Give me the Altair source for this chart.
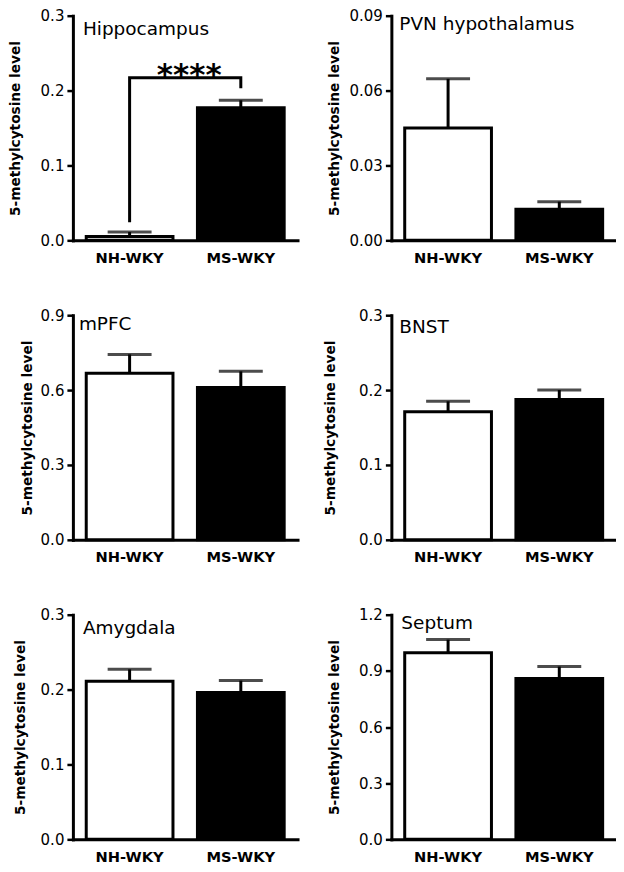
import altair as alt
import pandas as pd

groups = ["NH-WKY", "MS-WKY"]
regions = ["Hippocampus", "PVN hypothalamus", "mPFC", "BNST", "Amygdala", "Septum"]
nh_mean = [0.005, 0.045, 0.667, 0.171, 0.211, 0.997]
nh_sem = [0.006, 0.0197, 0.076, 0.014, 0.016, 0.070]
ms_mean = [0.177, 0.0125, 0.610, 0.1875, 0.196, 0.859]
ms_sem = [0.010, 0.003, 0.065, 0.0125, 0.016, 0.064]
y_max = [0.3, 0.09, 0.9, 0.3, 0.3, 1.2]
y_ticks = [
    [0.0, 0.1, 0.2, 0.3],
    [0.0, 0.03, 0.06, 0.09],
    [0.0, 0.3, 0.6, 0.9],
    [0.0, 0.1, 0.2, 0.3],
    [0.0, 0.1, 0.2, 0.3],
    [0.0, 0.3, 0.6, 0.9, 1.2],
]
y_formats = [".1f", ".2f", ".1f", ".1f", ".1f", ".1f"]

# significance bracket (Hippocampus)
bracket_x = ["NH-WKY", "NH-WKY", "MS-WKY", "MS-WKY"]
bracket_y = [0.024, 0.217, 0.217, 0.203]
sig_text = "****"

# per-panel layout tweaks
title_pad = [18, 8, 6, 21, 13, 17]
label_pos = [(10, 19), (8, 14), (6, 15), (8, 18), (10, 19), (10, 14)]

W, H = 225, 225
FONT = "DejaVu Sans"


def panel(i):
    df = pd.DataFrame({
        "group": groups,
        "mean": [nh_mean[i], ms_mean[i]],
        "sem": [nh_sem[i], ms_sem[i]],
    })
    df["upper"] = df["mean"] + df["sem"]
    base = alt.Chart(df)
    x = alt.X(
        "group:N",
        scale=alt.Scale(domain=groups, paddingInner=0.22, paddingOuter=0.12),
        axis=alt.Axis(
            title=None, labelAngle=0, labelAlign="center", labelBaseline="top",
            ticks=False, tickSize=0,
            labelFont=FONT, labelFontWeight="bold", labelFontSize=14.7,
            labelPadding=10, labelColor="black",
        ),
    )
    y = alt.Y(
        "mean:Q",
        scale=alt.Scale(domain=[0, y_max[i]], nice=False, zero=True),
        axis=alt.Axis(
            values=y_ticks[i], format=y_formats[i],
            title="5-methylcytosine level", titleFont=FONT, titleFontWeight="bold",
            titleFontSize=13.7, titlePadding=title_pad[i], titleColor="black",
            labelFont=FONT, labelFontSize=15, labelColor="black", labelPadding=3,
            tickSize=6, tickWidth=2.5, tickColor="black",
        ),
    )
    err = base.mark_rule(color="black", strokeWidth=3).encode(
        x=alt.X("group:N"), y=alt.Y("mean:Q"), y2="upper:Q"
    )
    cap = base.mark_tick(color="black", size=44, thickness=3).encode(
        x=alt.X("group:N"), y=alt.Y("upper:Q")
    )
    bars = base.mark_bar(stroke="black", strokeWidth=3).encode(
        x=x, y=y,
        fill=alt.Fill("group:N", scale=alt.Scale(domain=groups, range=["white", "black"]), legend=None),
    )
    lx, ly = label_pos[i]
    label = alt.Chart(pd.DataFrame({"t": [regions[i]]})).mark_text(
        align="left", baseline="alphabetic", font=FONT, fontSize=18.5, color="black"
    ).encode(x=alt.value(lx), y=alt.value(ly), text="t:N")
    layers = [err, cap, bars, label]
    if i == 0:
        bdf = pd.DataFrame({"bx": bracket_x, "by": bracket_y, "o": list(range(len(bracket_x)))})
        line = alt.Chart(bdf).mark_line(color="black", strokeWidth=3).encode(
            x=alt.X("bx:N"), y=alt.Y("by:Q"), order="o:Q"
        )
        stars = alt.Chart(pd.DataFrame({"s": [sig_text], "y": [bracket_y[1]]})).mark_text(
            align="center", baseline="alphabetic", font=FONT, fontWeight="bold",
            fontSize=31, color="black", dy=7,
        ).encode(x=alt.value(W / 2 + 4), y=alt.Y("y:Q"), text="s:N")
        layers += [line, stars]
    return alt.layer(*layers).properties(width=W, height=H)


chart = alt.concat(
    *[panel(i) for i in range(6)],
    columns=2,
    spacing={"row": 75, "column": 94},
    bounds="flush",
    padding={"left": 0, "top": 0, "right": 0, "bottom": 0},
).resolve_scale(
    x="independent", y="independent", fill="independent"
).configure_view(stroke=None).configure_axis(
    domainColor="black", domainWidth=3, domainCap="square", grid=False
)

chart.save("out.html", embed_options={"renderer": "svg", "actions": False})
